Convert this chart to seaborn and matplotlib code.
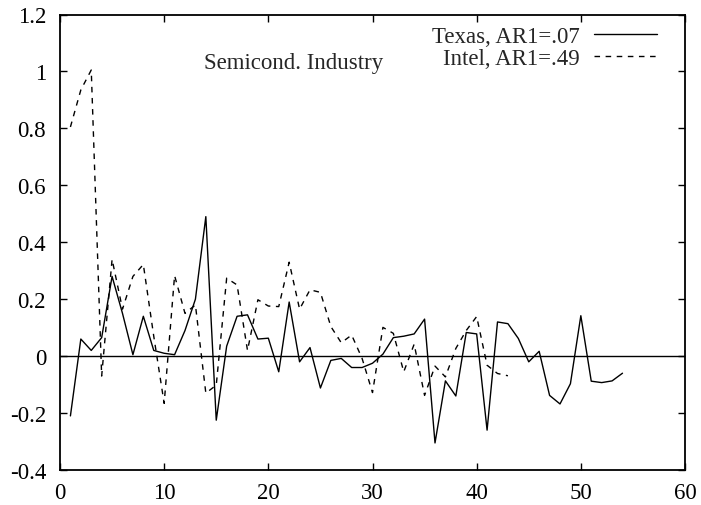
import matplotlib
matplotlib.use("Agg")
import matplotlib.pyplot as plt
import seaborn as sns
import pandas as pd

# ---- data ----
texas_x = list(range(1, 55))
texas_y = [-0.21, 0.06, 0.02, 0.065, 0.28, 0.15, 0.005, 0.14, 0.02, 0.01,
           0.005, 0.09, 0.2, 0.49, -0.225, 0.035, 0.14, 0.145, 0.06, 0.063,
           -0.055, 0.19, -0.02, 0.03, -0.112, -0.015, -0.008, -0.04, -0.04, -0.025,
           0.007, 0.065, 0.07, 0.078, 0.13, -0.305, -0.087, -0.14, 0.083, 0.078,
           -0.26, 0.12, 0.114, 0.062, -0.02, 0.017, -0.138, -0.168, -0.097, 0.142,
           -0.088, -0.093, -0.087, -0.06]
intel_x = list(range(1, 44))
intel_y = [0.805, 0.935, 1.005, -0.07, 0.34, 0.165, 0.28, 0.322, 0.07, -0.166,
           0.283, 0.15, 0.18, -0.13, -0.102, 0.274, 0.25, 0.02, 0.198, 0.176,
           0.174, 0.33, 0.165, 0.233, 0.224, 0.104, 0.047, 0.074, -0.008, -0.128,
           0.101, 0.08, -0.055, 0.042, -0.138, -0.035, -0.073, 0.027, 0.09, 0.139,
           -0.032, -0.061, -0.069]
labels = ["Texas, AR1=.07", "Intel, AR1=.49"]
title_text = "Semicond. Industry"
x_ticks = [0, 10, 20, 30, 40, 50, 60]
y_ticks = [-0.4, -0.2, 0, 0.2, 0.4, 0.6, 0.8, 1, 1.2]
y_ticklabels = ["-0.4", "-0.2", "0", "0.2", "0.4", "0.6", "0.8", "1", "1.2"]

FS = 16.5
sns.set_style("ticks")
plt.rcParams["font.family"] = ["Liberation Serif", "DejaVu Serif"]
plt.rcParams["font.size"] = FS

fig = plt.figure(figsize=(7.01, 5.06), dpi=100)
ax = fig.add_axes([60 / 701, 1 - 471 / 506, 625 / 701, (471 - 15.5) / 506])

df_t = pd.DataFrame({"x": texas_x, "y": texas_y})
df_i = pd.DataFrame({"x": intel_x, "y": intel_y})

sns.lineplot(data=df_t, x="x", y="y", ax=ax, color="black", lw=1.0,
             label=labels[0], estimator=None, sort=False)
sns.lineplot(data=df_i, x="x", y="y", ax=ax, color="black", lw=1.0,
             linestyle=(0, (4, 4)), label=labels[1], estimator=None, sort=False)
ax.axhline(0, color="black", lw=1.0)

ax.set_xlim(0, 60)
ax.set_ylim(-0.4, 1.2)
ax.set_xticks(x_ticks)
ax.set_xticklabels([str(t) for t in x_ticks])
ax.set_yticks(y_ticks)
ax.set_yticklabels(y_ticklabels)
ax.set_xlabel("")
ax.set_ylabel("")
ax.tick_params(direction="in", length=5, width=1, top=True, right=True,
               labelsize=FS, colors="black")
ax.tick_params(axis="x", pad=8.5)
ax.tick_params(axis="y", pad=10)
for s in ax.spines.values():
    s.set_linewidth(1.3)
    s.set_color("black")

ax.text(22.45, 1.03, title_text, ha="center", va="center", fontsize=FS)

leg = ax.legend(loc="upper right", bbox_to_anchor=(0.955, 0.975), frameon=False,
                markerfirst=False, handlelength=2.75, handletextpad=0.6,
                labelspacing=0.05, borderaxespad=0, borderpad=0, fontsize=FS)
for t in leg.get_texts():
    t.set_ha("right")

fig.savefig("out.png", dpi=100, facecolor="white")
